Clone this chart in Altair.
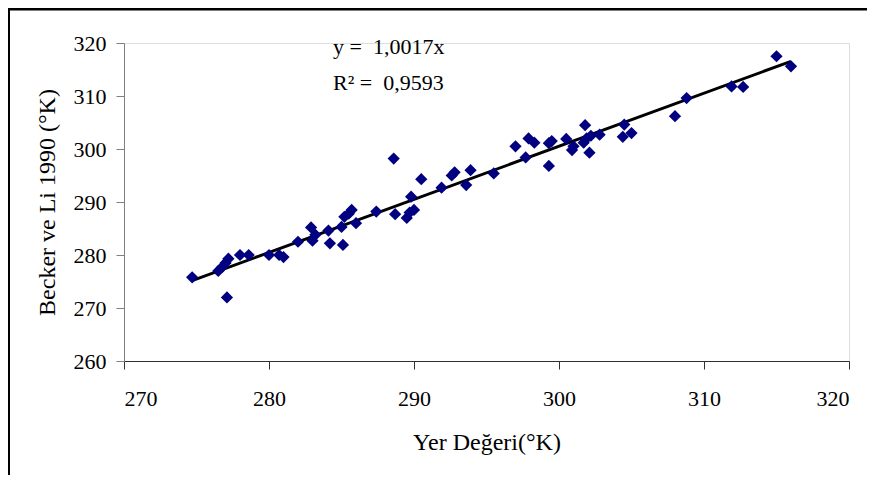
import altair as alt
import pandas as pd

# Observed points: Yer Değeri (x) vs Becker ve Li 1990 (y)
yer = [274.7, 276.5, 276.8, 277.0, 277.2, 277.1, 278.0, 278.6, 280.0, 280.7,
       281.0, 282.0, 282.9, 283.0, 283.2, 284.2, 284.1, 285.1, 285.0, 285.2,
       285.5, 285.7, 286.0, 287.4, 288.6, 288.7, 289.5, 289.7, 289.8, 290.0,
       290.5, 291.9, 292.6, 292.8, 293.6, 293.9, 295.5, 297.0, 297.7, 297.9,
       298.3, 299.3, 299.3, 299.5, 300.5, 300.9, 301.0, 301.7, 301.8, 301.9,
       302.1, 302.2, 302.8, 304.4, 304.5, 305.0, 308.0, 308.8, 311.9, 312.7,
       315.0, 316.0]
becker = [275.8, 277.0, 277.8, 278.5, 279.3, 272.0, 280.0, 280.0, 280.0, 280.0,
          279.6, 282.5, 285.2, 282.7, 283.8, 282.2, 284.6, 281.9, 285.3, 287.2,
          287.8, 288.5, 286.0, 288.2, 298.2, 287.7, 287.0, 288.0, 291.0, 288.5,
          294.3, 292.7, 295.0, 295.6, 293.2, 296.0, 295.4, 300.5, 298.4, 302.0,
          301.2, 296.8, 301.1, 301.5, 301.9, 299.8, 300.5, 301.2, 304.5, 302.0,
          299.3, 302.5, 302.7, 302.3, 304.6, 303.0, 306.2, 309.6, 311.8, 311.7,
          317.5, 315.6]

slope = 1.0017
eq_text = "y =\u00a0\u00a01,0017x"
r2_text = "R\u00b2 =\u00a0\u00a00,9593"
x_title = "Yer Değeri(°K)"
y_title = "Becker ve Li 1990 (°K)"
ticks = [260, 270, 280, 290, 300, 310, 320]

W, H = 725, 318
PAD_L, PAD_T, PAD_R, PAD_B = 116, 35, 18, 114
FONT = "'Liberation Serif', 'Times New Roman', Times, serif"

pts = pd.DataFrame({"x": yer, "y": becker})
line_df = pd.DataFrame({"x": [min(yer), max(yer)]})
line_df["y"] = line_df["x"] * slope
one = pd.DataFrame({"a": [0]})

xs = alt.Scale(domain=[270, 320], nice=False, zero=False)
ys = alt.Scale(domain=[260, 320], nice=False, zero=False)

xax = alt.Axis(values=ticks[1:], grid=False, tickSize=8, domainColor="#303030",
               tickColor="#303030", labelFont=FONT, labelFontSize=22,
               labelColor="black", labelBaseline="alphabetic", labelPadding=36,
               title=x_title, titleFont=FONT, titleFontSize=24,
               titleFontWeight="normal", titleColor="black",
               titleBaseline="alphabetic", titleY=88, titleX=W / 2)
yax = alt.Axis(values=ticks, grid=False, tickSize=8, domainColor="#808080",
               tickColor="#808080", labelFont=FONT, labelFontSize=22,
               labelColor="black", labelPadding=10,
               title=y_title, titleFont=FONT, titleFontSize=24,
               titleFontWeight="normal", titleColor="black",
               titleBaseline="middle", titleX=-77, titleY=H / 2, titleAngle=-90)

points = alt.Chart(pts).mark_point(shape="diamond", filled=True, size=150,
                                   color="#000080", opacity=1).encode(
    x=alt.X("x:Q", scale=xs, axis=xax),
    y=alt.Y("y:Q", scale=ys, axis=yax),
)

trend = alt.Chart(line_df).mark_line(color="black", strokeWidth=3).encode(
    x=alt.X("x:Q", scale=xs),
    y=alt.Y("y:Q", scale=ys),
)

t1 = alt.Chart(one).mark_text(text=eq_text, font=FONT, fontSize=22, align="left",
                              baseline="alphabetic", color="black").encode(
    x=alt.value(209), y=alt.value(11))
t2 = alt.Chart(one).mark_text(text=r2_text, font=FONT, fontSize=22, align="left",
                              baseline="alphabetic", color="black").encode(
    x=alt.value(209), y=alt.value(47))

top_border = alt.Chart(one).mark_rule(color="black", strokeWidth=3).encode(
    x=alt.value(-PAD_L), x2=alt.value(W + PAD_R), y=alt.value(-PAD_T + 1))
left_border = alt.Chart(one).mark_rule(color="black", strokeWidth=2).encode(
    x=alt.value(-PAD_L + 1), y=alt.value(-PAD_T), y2=alt.value(H + PAD_B))

chart = alt.layer(trend, points, t1, t2, top_border, left_border).properties(
    width=W, height=H,
    autosize=alt.AutoSizeParams(type="none"),
    padding={"left": PAD_L, "top": PAD_T, "right": PAD_R, "bottom": PAD_B},
).configure_view(stroke=None).configure(background="white")

chart.save("out.html", embed_options={"renderer": "svg", "actions": False})
